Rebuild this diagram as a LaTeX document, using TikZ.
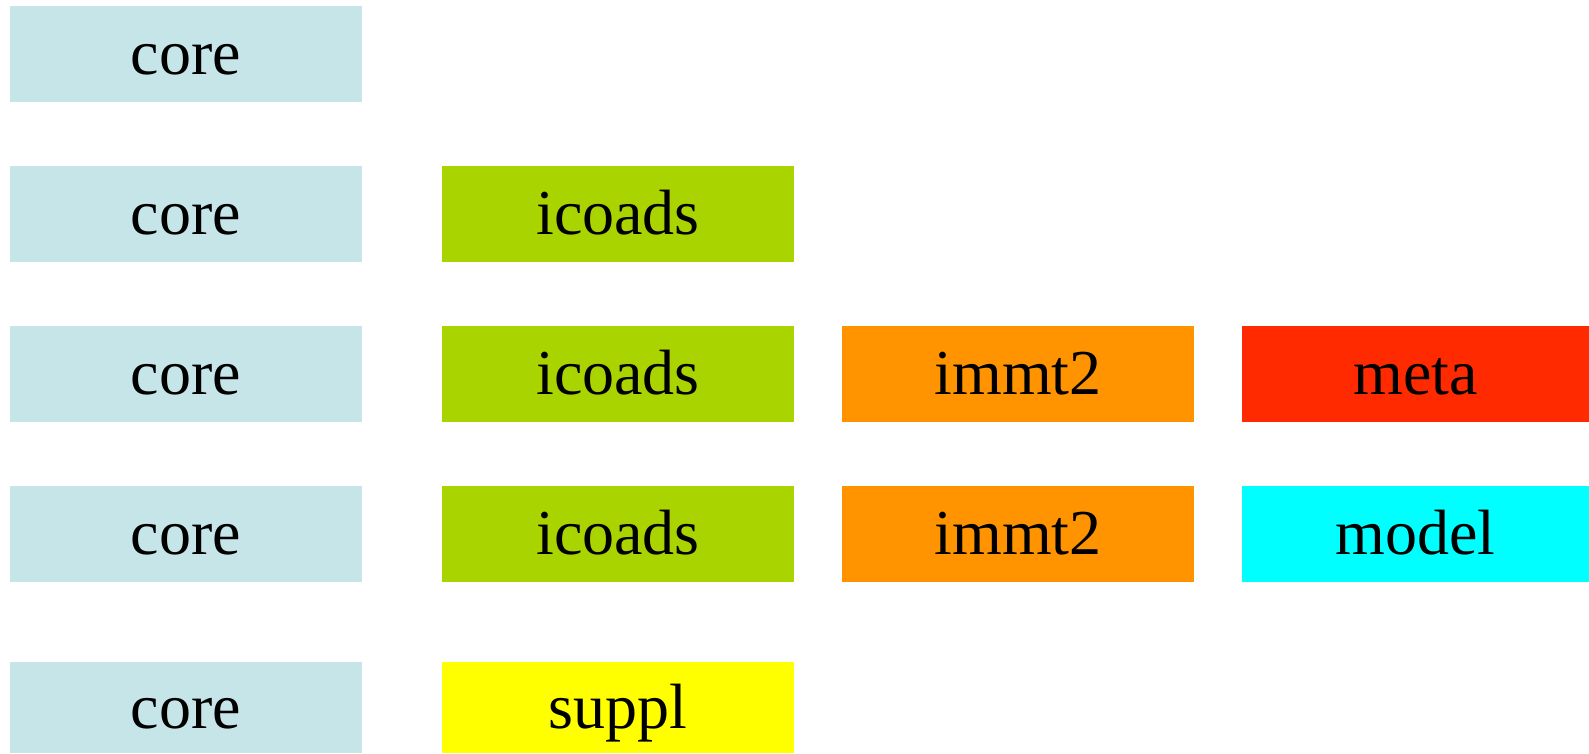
\documentclass[tikz,border=0pt]{standalone}
\usepackage{fontspec}
\setmainfont{Liberation Serif}
\definecolor{corec}{HTML}{C6E5E9}
\definecolor{icoadsc}{HTML}{AAD400}
\definecolor{immtc}{HTML}{FF9400}
\definecolor{metac}{HTML}{FF2A00}
\definecolor{modelc}{HTML}{00FFFF}
\definecolor{supplc}{HTML}{FFFF00}
\begin{document}
\begin{tikzpicture}[x=1pt,y=1pt,
  blk/.style={rectangle, fill=#1, draw=none, minimum width=352pt, minimum height=96pt,
    inner sep=0pt, outer sep=0pt, anchor=north west, text height=41pt, text depth=0pt,
    font=\fontsize{64}{77}\selectfont}]
\useasboundingbox (0,0) rectangle (1589,753);
\clip (0,0) rectangle (1589,753);
% row 1
\node[blk=corec] (c1) at (10,747) {core};
% row 2
\node[blk=corec] (c2) at (10,587) {core};
\node[blk=icoadsc] (i2) at (442,587) {icoads};
% row 3
\node[blk=corec] (c3) at (10,427) {core};
\node[blk=icoadsc] (i3) at (442,427) {icoads};
\node[blk=immtc] (m3) at (842,427) {immt2};
\node[blk=metac, minimum width=347pt] (meta) at (1242,427) {meta};
% row 4
\node[blk=corec] (c4) at (10,267) {core};
\node[blk=icoadsc] (i4) at (442,267) {icoads};
\node[blk=immtc] (m4) at (842,267) {immt2};
\node[blk=modelc, minimum width=347pt] (model) at (1242,267) {model};
% row 5
\node[blk=corec, minimum height=91pt] (c5) at (10,91) {core};
\node[blk=supplc, minimum height=91pt] (s5) at (442,91) {suppl};
\end{tikzpicture}
\end{document}
